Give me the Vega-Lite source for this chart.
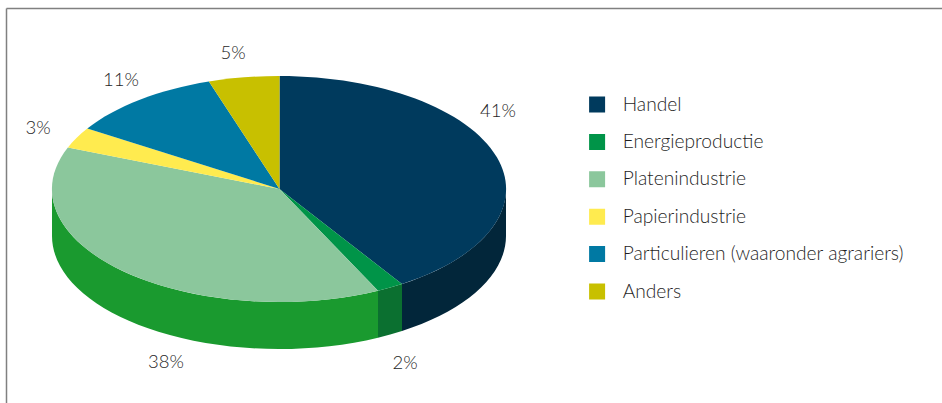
{"$schema":"https://vega.github.io/schema/vega-lite/v6.json","width":936,"height":395,"autosize":"none","padding":{"left":6,"top":8,"right":0,"bottom":0},"background":"white","config":{"view":{"stroke":null},"font":"Lato"},"data":{"values":[{"sector":"Handel","share":0.41},{"sector":"Energieproductie","share":0.02},{"sector":"Platenindustrie","share":0.38},{"sector":"Papierindustrie","share":0.03},{"sector":"Particulieren (waaronder agrariers)","share":0.11},{"sector":"Anders","share":0.05}]},"resolve":{"scale":{"color":"independent","shape":"independent"}},"layer":[{"mark":{"type":"square","size":0,"opacity":1},"encoding":{"color":{"field":"sector","type":"nominal","scale":{"domain":["Handel","Energieproductie","Platenindustrie","Papierindustrie","Particulieren (waaronder agrariers)","Anders"],"range":["#003a5d","#009448","#8bc79c","#ffeb4f","#0079a3","#c8c000"]},"legend":{"title":null,"orient":"none","legendX":581.5,"legendY":86,"symbolType":"square","symbolSize":256,"symbolStrokeWidth":0,"labelFont":"Lato","labelFontSize":19.2,"labelFontWeight":300,"labelColor":"#1f1f1f","labelLimit":320,"labelOffset":16,"rowPadding":16.4,"clipHeight":21}}}},{"transform":[{"filter":"datum.share >= 0.41 || datum.share == 0.02 || datum.share == 0.38"}],"mark":{"type":"point","filled":true,"size":4,"opacity":1,"strokeWidth":0},"encoding":{"color":{"field":"sector","type":"nominal","legend":null,"scale":{"domain":["Handel","Energieproductie","Platenindustrie"],"range":["#02263a","#0b7030","#1a9a2f"]}},"shape":{"field":"sector","type":"nominal","legend":null,"scale":{"domain":["Handel","Energieproductie","Platenindustrie"],"range":["M32,-16.5 A227,113 0 0 1 -72,78.5 L-72,125.5 A227,113 0 0 0 32,30.5 Z","M-72,78.5 A227,113 0 0 1 -96,85.2 L-96,132.2 A227,113 0 0 0 -72,125.5 Z","M-96,85.2 A227,113 0 0 1 -422,-16.5 L-422,30.5 A227,113 0 0 0 -96,132.2 Z"]}}}},{"mark":{"type":"point","filled":true,"size":4,"opacity":1,"strokeWidth":0},"encoding":{"color":{"field":"sector","type":"nominal","legend":null,"scale":{"domain":["Handel","Energieproductie","Platenindustrie","Papierindustrie","Particulieren (waaronder agrariers)","Anders"],"range":["#003a5d","#009448","#8bc79c","#ffeb4f","#0079a3","#c8c000"]}},"shape":{"field":"sector","type":"nominal","legend":null,"scale":{"domain":["Handel","Energieproductie","Platenindustrie","Papierindustrie","Particulieren (waaronder agrariers)","Anders"],"range":["M-194.5,-16.5 L-194.5,-129.5 A227,113 0 0 1 -72,78.5 Z","M-194.5,-16.5 L-72,78.5 A227,113 0 0 1 -96,85.2 Z","M-194.5,-16.5 L-96,85.2 A227,113 0 0 1 -406.1,-58.1 Z","M-194.5,-16.5 L-406.1,-58.1 A227,113 0 0 1 -386.7,-77 Z","M-194.5,-16.5 L-386.7,-77 A227,113 0 0 1 -265.1,-124 Z","M-194.5,-16.5 L-265.1,-124 A227,113 0 0 1 -194.5,-129.5 Z"]}}}},{"mark":{"type":"text","font":"Lato","fontSize":18.5,"fontWeight":300,"color":"#1f1f1f","align":"center","baseline":"middle"},"encoding":{"x":{"field":"share","type":"quantitative","scale":{"domain":[0,0.02,0.03,0.05,0.11,0.38,0.41,1],"range":[0,399,32,227,115,160,492,936],"zero":false,"nice":false},"axis":{"orient":"top","title":null,"labels":false,"ticks":false,"grid":false,"domainColor":"#808080","domainWidth":1.5}},"y":{"field":"share","type":"quantitative","scale":{"domain":[0,0.02,0.03,0.05,0.11,0.38,0.41,1],"range":[395,355,120,45,72,354,103,0],"zero":false,"nice":false},"axis":{"orient":"left","title":null,"labels":false,"ticks":false,"grid":false,"domainColor":"#808080","domainWidth":1.5}},"text":{"field":"share","type":"quantitative","format":".0%"}}}]}
